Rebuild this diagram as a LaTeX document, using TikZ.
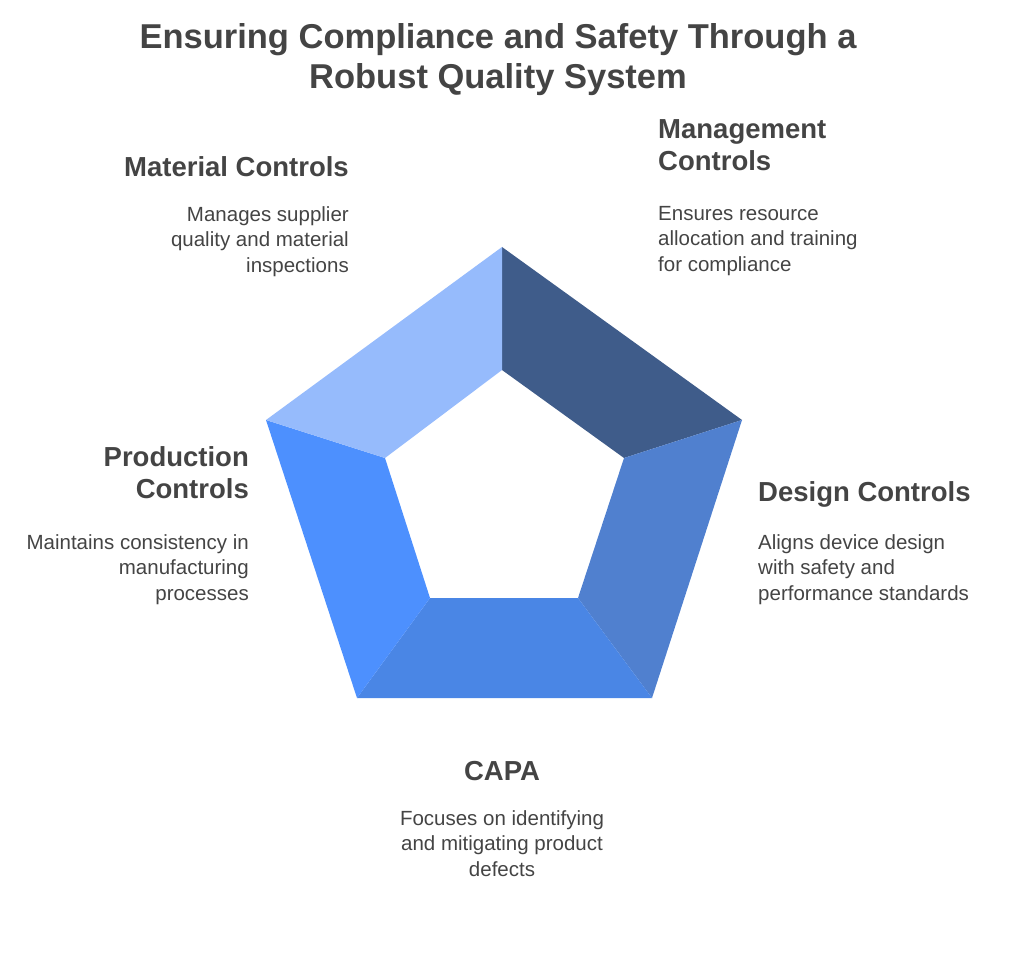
\documentclass[tikz,border=0pt]{standalone}
\usepackage{fontspec}
\setmainfont{Liberation Sans}
\begin{document}
\begin{tikzpicture}[x=1pt,y=-1pt,
 hd/.style={font=\bfseries\fontsize{27.5}{32}\selectfont,text=txt,inner sep=0pt},
 bd/.style={font=\fontsize{20.5}{25.5}\selectfont,text=txt,inner sep=0pt}]
\definecolor{txt}{HTML}{444444}
\definecolor{cA}{HTML}{3F5C8A}\definecolor{cB}{HTML}{5080CF}\definecolor{cC}{HTML}{4A86E5}
\definecolor{cD}{HTML}{4D90FE}\definecolor{cE}{HTML}{96BBFC}
\useasboundingbox (0,0) rectangle (1024,957);
\coordinate (o1) at (502,247);\coordinate (o2) at (742,420);\coordinate (o3) at (652,698);
\coordinate (o4) at (357,698);\coordinate (o5) at (266,420);
\coordinate (i1) at (502,370);\coordinate (i2) at (624,458);\coordinate (i3) at (578,598);
\coordinate (i4) at (430,598);\coordinate (i5) at (385,458);
\fill[cA] (o1)--(o2)--(i2)--(i1)--cycle;
\fill[cB] (o2)--(o3)--(i3)--(i2)--cycle;
\fill[cC] (o3)--(o4)--(i4)--(i3)--cycle;
\fill[cD] (o4)--(o5)--(i5)--(i4)--cycle;
\fill[cE] (o5)--(o1)--(i1)--(i5)--cycle;
\node[hd,align=center,font=\bfseries\fontsize{34.5}{40}\selectfont] (t) at (498,60) {Ensuring Compliance and Safety Through a\\Robust Quality System};
\node[hd,anchor=east] (mh) at (349,167) {Material Controls};
\node[bd,anchor=north east,align=right] (mb) at (349,206) {Manages supplier\\quality and material\\inspections};
\node[hd,anchor=north west,align=left] (gh) at (658,119) {Management\\Controls};
\node[bd,anchor=north west,align=left] (gb) at (658,206) {Ensures resource\\allocation and training\\for compliance};
\node[hd,anchor=north east,align=right] (ph) at (249,446) {Production\\Controls};
\node[bd,anchor=north east,align=right] (pb) at (249,534) {Maintains consistency in\\manufacturing\\processes};
\node[hd,anchor=west] (dh) at (758,494) {Design Controls};
\node[bd,anchor=north west,align=left] (db) at (758,534) {Aligns device design\\with safety and\\performance standards};
\node[hd] (ch) at (502,771) {CAPA};
\node[bd,anchor=north,align=center] (cb) at (502,810) {Focuses on identifying\\and mitigating product\\defects};
\end{tikzpicture}
\end{document}
